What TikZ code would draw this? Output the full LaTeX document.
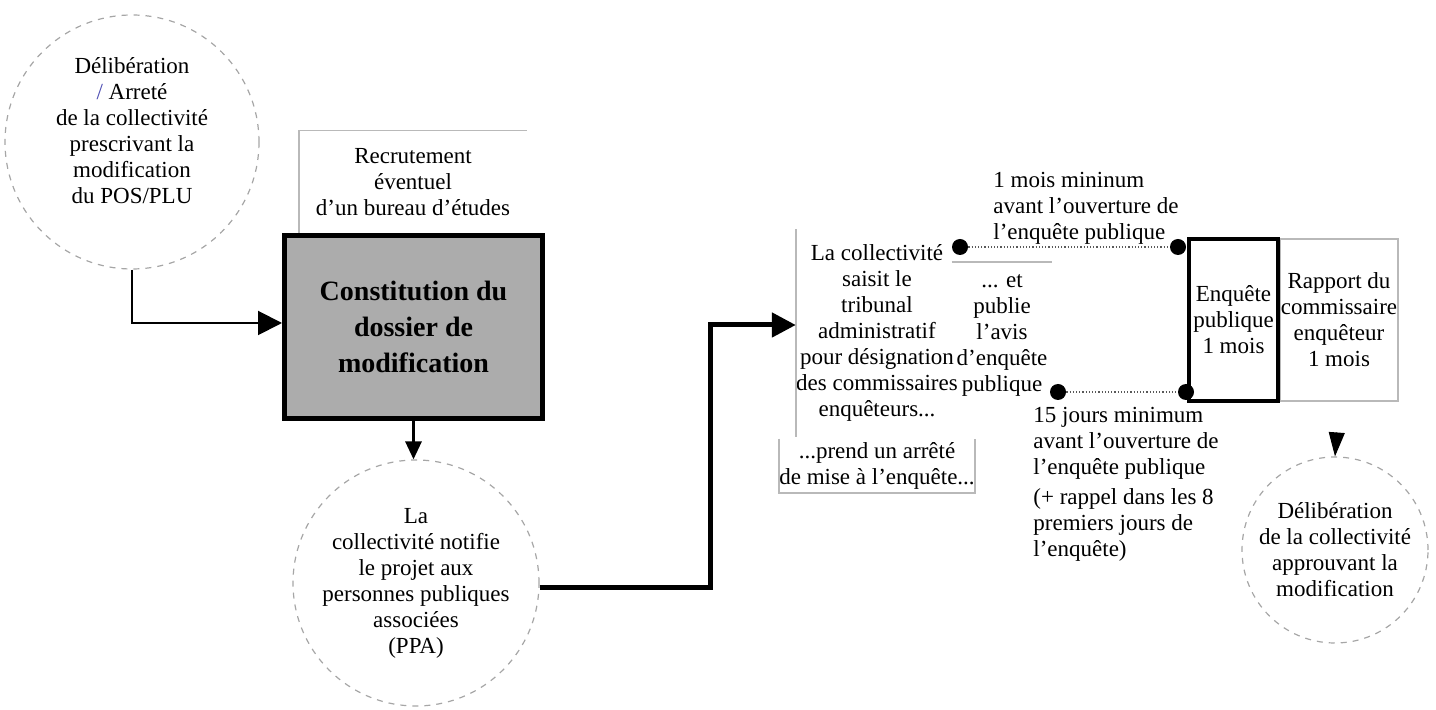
\documentclass[tikz,border=0pt]{standalone}
\usepackage{fontspec}
\setmainfont{Liberation Serif}
\usetikzlibrary{arrows.meta}
\begin{document}
\begin{tikzpicture}[x=0.5pt,y=-0.5pt,
  txt/.style={font=\fontsize{11.5}{13}\selectfont, align=center},
  dcirc/.style={circle, draw=gray!70, dashed, line width=0.6pt, txt, inner sep=0pt},
  thinline/.style={draw=gray!55, line width=0.9pt},
  dot/.style={circle, fill=black, minimum size=8pt, inner sep=0pt},
  bigarrow/.style={-{Triangle[length=12pt,width=12pt]}},
  dotline/.style={densely dotted, draw=gray!70!black, line width=0.6pt}
]
\useasboundingbox (0,0) rectangle (1436,710);

% left circle
\node[dcirc, minimum size=127pt,
  label={[txt, yshift=5.5pt]center:{Délibération\\{\color{blue!40!gray}/} Arreté\\de la collectivité\\prescrivant la\\modification\\du POS/PLU}}] (c1) at (132,142) {};

% recruitment box
\node[txt, minimum width=114pt, minimum height=51pt, inner sep=0pt] (rec) at (413,182)
  {Recrutement\\éventuel\\d'un bureau d'études};
\draw[thinline] (rec.south west) |- (rec.north east);

% main box
\node[draw=black, line width=2.5pt, fill=gray!65, minimum width=129pt, minimum height=91.5pt,
  font=\bfseries\fontsize{14}{18}\selectfont, align=center, inner sep=0pt] (main) at (413.5,327)
  {Constitution du\\dossier de\\modification};

\draw[line width=1pt, bigarrow] (c1.south) |- ([yshift=2pt]main.west);

% second circle
\node[dcirc, minimum size=123pt] (c2) at (416,583)
  {La\\collectivité notifie\\le projet aux\\personnes publiques\\associées\\(PPA)};
\draw[line width=1.5pt, -{Triangle[length=9pt,width=8pt]}] (main.south) -- (main.south |- c2.north);

% saisit box
\node[txt, minimum width=71pt, minimum height=103.5pt, inner sep=0pt] (saisit) at (877,333)
  {La collectivité\\saisit le\\tribunal\\administratif\\pour désignation\\des commissaires\\enquêteurs...};
\draw[thinline] (saisit.north west) -- (saisit.south west);

\draw[line width=2.5pt, bigarrow] ([yshift=-2.5pt]c2.east) -- ++(171,0) |- ([yshift=4pt]saisit.west);

% prend box
\node[txt, minimum width=89.5pt, minimum height=27pt, inner sep=0pt] (prend) at (877,466)
  {...prend un arrêté\\de mise à l'enquête...};
\draw[thinline] (prend.north west) |- (prend.south east) -- (prend.north east);

% publie
\node[txt, minimum width=50pt, inner ysep=6pt, inner xsep=0pt] (publie) at (1002,335)
  {... et\\publie\\l'avis\\d'enquête\\publique};
\draw[thinline] (publie.north west) -- (publie.north east);

% rapport and enquete boxes
\node[draw=gray!55, line width=0.9pt, minimum width=59pt, minimum height=81pt, txt, inner sep=0pt] (rap) at (1339,320)
  {Rapport du\\commissaire\\enquêteur\\1 mois};
\node[draw=black, line width=2pt, minimum width=44.5pt, minimum height=81pt, txt, inner sep=0pt] (enq) at (1233.5,320)
  {Enquête\\publique\\1 mois};

% dots and dotted lines
\node[dot] (d1) at (960,247) {};
\node[dot] (d2) at (1178,247) {};
\node[dot] (d3) at (1186,392) {};
\node[dot] (d4) at (1058,392) {};
\draw[dotline] (d1) -- (d2);
\draw[dotline] (d4) -- (d3);

\node[txt, align=left, anchor=north west, inner sep=0pt] (m1) at (993,172)
  {1 mois mininum\\avant l'ouverture de\\l'enquête publique};
\node[txt, align=left, anchor=north west, inner sep=0pt] (m2) at (1033,407)
  {15 jours minimum\\avant l'ouverture de\\l'enquête publique\\[2pt](+ rappel dans les 8\\premiers jours de\\l'enquête)};

% final circle
\node[dcirc, minimum size=93pt] (c3) at (1335,550)
  {Délibération\\de la collectivité\\approuvant la\\modification};
\draw[shorten <=16pt, line width=0.5pt, -{Triangle[length=12pt,width=8pt]}] (rap.south) -- (c3.north);
\end{tikzpicture}
\end{document}
